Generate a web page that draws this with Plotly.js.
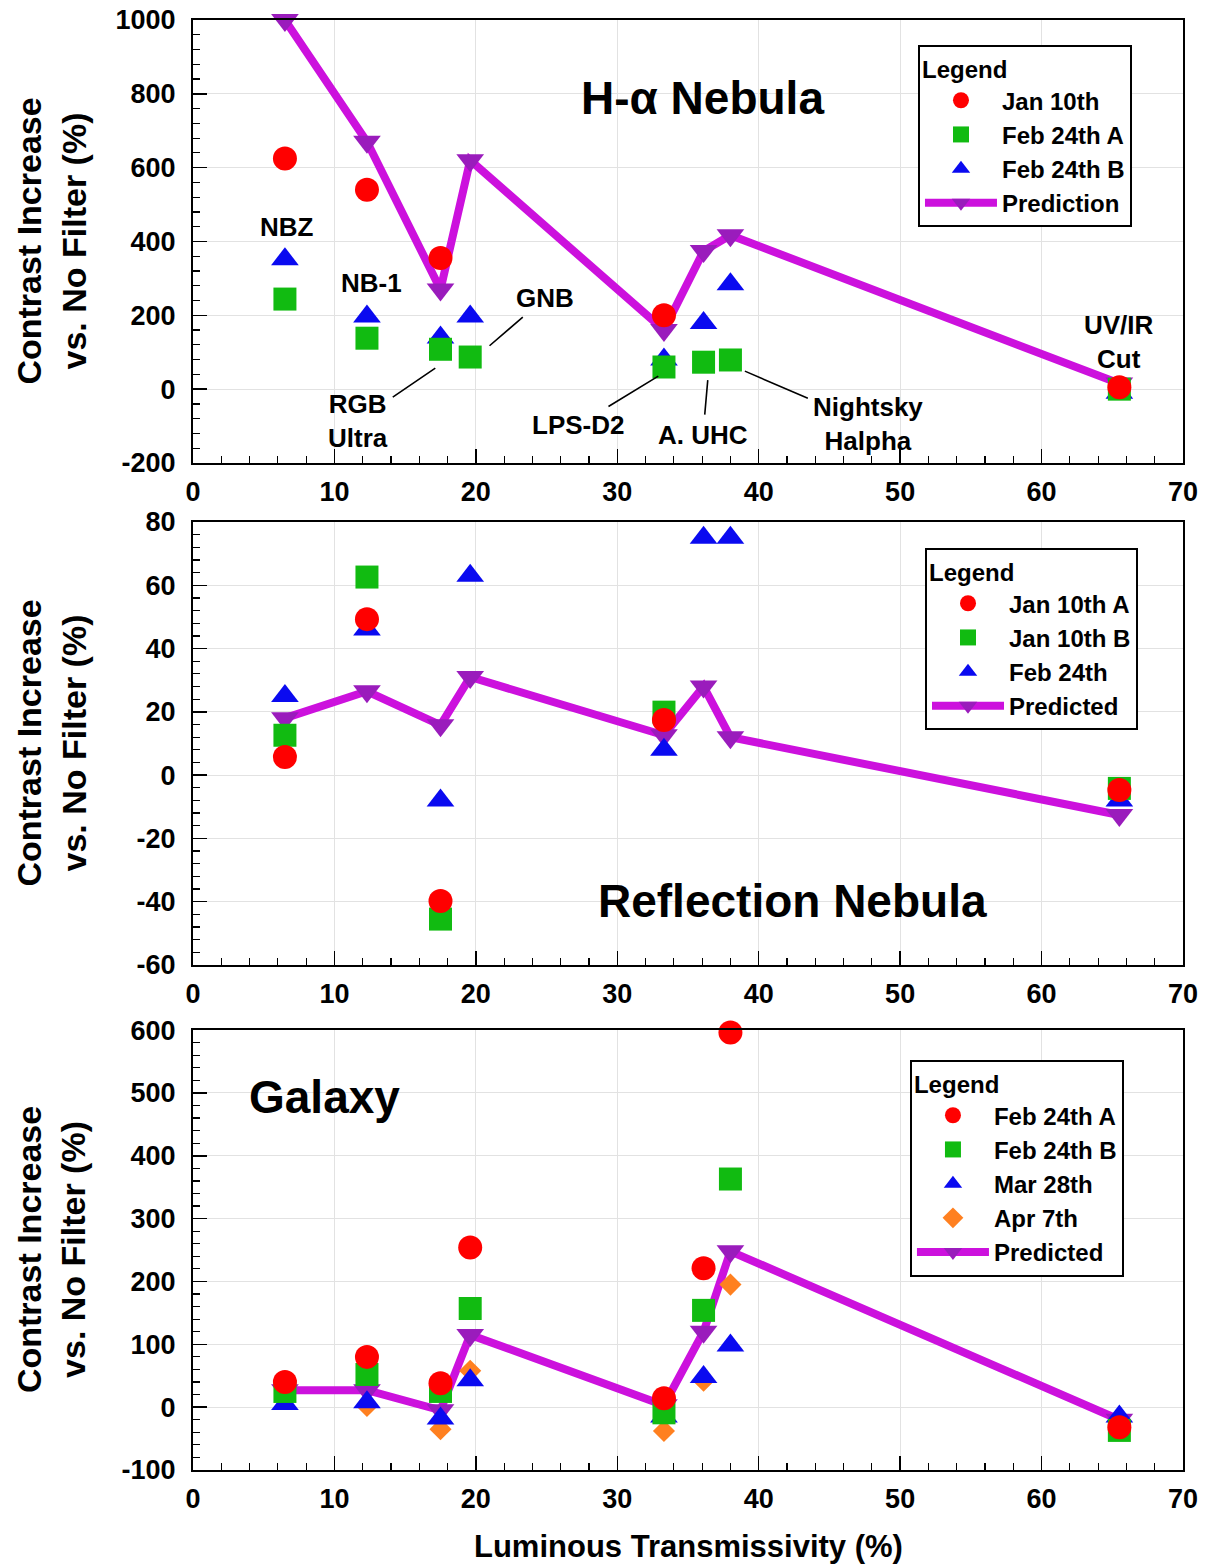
<!DOCTYPE html>
<html>
<head>
<meta charset="utf-8">
<script src="https://cdn.plot.ly/plotly-3.0.1.min.js"></script>
<style>
  html, body { margin: 0; padding: 0; background: #ffffff; }
  #chart { width: 1211px; height: 1568px; }
</style>
</head>
<body>
<div id="chart"></div>
<script>
// ---------- Data ----------
// Filter luminous transmissivity (%)
const transmissivity = [6.5, 12.3, 17.5, 19.6, 33.3, 36.1, 38.0, 65.5];

// H-alpha nebula
const haJan10      = [625, 540, 355, null, 200, null, null, 5];
const haFeb24A     = [244, 138, 108, 87, 60, 73, 79, 0];
const haFeb24B     = [352, 197, 140, 197, 80, 179, 284, -10];
const haPrediction = [1000, 670, 270, 620, 160, 374, 417, 15];

// Reflection nebula
const rnJan10A    = [5.7, 49.3, -39.8, null, 17.4, null, null, -4.7];
const rnJan10B    = [12.6, 62.6, -45.5, null, 19.9, null, null, -4.2];
const rnFeb24     = [25, 46, -8, 63, 8, 75, 75, -8];
const rnPredicted = [18, 26.5, 15.8, 31, 12.6, 28, 12, -12.6];

// Galaxy
const gxFeb24A    = [40, 80, 38, 254, 14, 221, 596, -32];
const gxFeb24B    = [25, 52, 25, 157, -9, 154, 363, -37];
const gxMar28     = [5, 8, -18, 43, -15, 48, 98, -15];
const gxApr7      = [15, 2, -35, 58, -38, 42, 195, -30];
const gxPredicted = [27, 27, -5, 115, 3, 120, 248, -20];

// Tick labels
const xTicks   = [0, 10, 20, 30, 40, 50, 60, 70];
const yTicksHa = [-200, 0, 200, 400, 600, 800, 1000];
const yTicksRn = [-60, -40, -20, 0, 20, 40, 60, 80];
const yTicksGx = [-100, 0, 100, 200, 300, 400, 500, 600];

// Text
const panelTitles = ['H-\u03b1 Nebula', 'Reflection Nebula', 'Galaxy'];
const yTitle = 'Contrast Increase<br>vs. No Filter (%)';
const xTitle = 'Luminous Transmissivity (%)';
const filterNames = ['NBZ', 'NB-1', 'GNB', 'RGB<br>Ultra', 'LPS-D2', 'A. UHC', 'Nightsky<br>Halpha', 'UV/IR<br>Cut'];

// ---------- Styling ----------
const FONT = 'Liberation Sans, Arial, Helvetica, sans-serif';
const RED = '#ff0000', GREEN = '#11bb11', BLUE = '#0a0af0', ORANGE = '#ff8020';
const MAG_LINE = '#cc11dd', MAG_MARK = '#9a1cbc';

function pts(name, y, color, symbol, size, xa, ya, leg, rank) {
  return {
    type: 'scatter', mode: 'markers', name: name,
    x: transmissivity, y: y, xaxis: xa, yaxis: ya, legend: leg, legendrank: rank,
    cliponaxis: false,
    marker: { color: color, symbol: symbol, size: size, line: { width: 0 } }
  };
}
function pred(name, y, xa, ya, leg, rank) {
  return {
    type: 'scatter', mode: 'lines+markers', name: name,
    x: transmissivity, y: y, xaxis: xa, yaxis: ya, legend: leg, legendrank: rank,
    cliponaxis: false,
    line: { color: MAG_LINE, width: 8 },
    marker: { color: MAG_MARK, symbol: 'triangle-down', size: 24, line: { width: 0 } }
  };
}

const traces = [
  // top panel (bottom layer first)
  pred('Prediction', haPrediction, 'x', 'y', 'legend', 4),
  pts('Feb 24th B', haFeb24B, BLUE, 'triangle-up', 24, 'x', 'y', 'legend', 3),
  pts('Feb 24th A', haFeb24A, GREEN, 'square', 23, 'x', 'y', 'legend', 2),
  pts('Jan 10th', haJan10, RED, 'circle', 24, 'x', 'y', 'legend', 1),
  // middle panel
  pred('Predicted', rnPredicted, 'x2', 'y2', 'legend2', 4),
  pts('Feb 24th', rnFeb24, BLUE, 'triangle-up', 24, 'x2', 'y2', 'legend2', 3),
  pts('Jan 10th B', rnJan10B, GREEN, 'square', 23, 'x2', 'y2', 'legend2', 2),
  pts('Jan 10th A', rnJan10A, RED, 'circle', 24, 'x2', 'y2', 'legend2', 1),
  // bottom panel
  pred('Predicted', gxPredicted, 'x3', 'y3', 'legend3', 5),
  pts('Apr 7th', gxApr7, ORANGE, 'diamond', 17, 'x3', 'y3', 'legend3', 4),
  pts('Mar 28th', gxMar28, BLUE, 'triangle-up', 24, 'x3', 'y3', 'legend3', 3),
  pts('Feb 24th B', gxFeb24B, GREEN, 'square', 23, 'x3', 'y3', 'legend3', 2),
  pts('Feb 24th A', gxFeb24A, RED, 'circle', 24, 'x3', 'y3', 'legend3', 1)
];

const tickFont = { family: FONT, size: 27, color: '#000', weight: 'bold' };
function xAx(anchor) {
  return {
    anchor: anchor, domain: [0, 1], range: [0, 70],
    tickmode: 'array', tickvals: xTicks, ticktext: xTicks.map(String),
    ticks: 'inside', ticklen: 14, tickwidth: 1.5, tickcolor: '#000',
    minor: { tickmode: 'linear', tick0: 0, dtick: 2, ticks: 'inside', ticklen: 7, tickwidth: 1.2, tickcolor: '#000', showgrid: false },
    showgrid: true, gridcolor: '#e2e2e2', gridwidth: 1,
    showline: true, linecolor: '#000', linewidth: 2, mirror: true,
    zeroline: false, tickfont: tickFont, ticklabelstandoff: 4
  };
}
function yAx(anchor, domain, range, vals, mdtick) {
  return {
    anchor: anchor, domain: domain, range: range,
    tickmode: 'array', tickvals: vals, ticktext: vals.map(String),
    ticks: 'inside', ticklen: 14, tickwidth: 1.5, tickcolor: '#000',
    minor: { tickmode: 'linear', tick0: 0, dtick: mdtick, ticks: 'inside', ticklen: 7, tickwidth: 1.2, tickcolor: '#000', showgrid: false },
    showgrid: true, gridcolor: '#e2e2e2', gridwidth: 1,
    showline: true, linecolor: '#000', linewidth: 2, mirror: true,
    zeroline: false, tickfont: tickFont, ticklabelstandoff: 10
  };
}
const legFont = { family: FONT, size: 24, color: '#000', weight: 'bold' };
function leg(x, y) {
  return {
    x: x, y: y, xanchor: 'left', yanchor: 'top', xref: 'paper', yref: 'paper',
    bgcolor: '#ffffff', bordercolor: '#000', borderwidth: 2,
    font: legFont, title: { text: 'Legend', font: legFont },
    itemwidth: 72, traceorder: 'normal', tracegroupgap: 0
  };
}

const bigFont = { family: FONT, size: 46, color: '#000', weight: 'bold' };
const lblFont = { family: FONT, size: 26, color: '#000', weight: 'bold' };
const titleFont = { family: FONT, size: 34, color: '#000', weight: 'bold' };

function txt(text, xref, yref, x, y, font) {
  return { text: text, xref: xref, yref: yref, x: x, y: y, showarrow: false, font: font,
           align: 'center', xanchor: 'center', yanchor: 'middle' };
}
function arr(text, x, y, ax, ay) {
  return { text: text, xref: 'x', yref: 'y', x: x, y: y, ax: ax, ay: ay, showarrow: true,
           arrowhead: 0, arrowwidth: 1.6, arrowcolor: '#000', standoff: 2, startstandoff: 4,
           font: lblFont, align: 'center' };
}

const annotations = [
  txt(panelTitles[0], 'x', 'y', 36.0, 789, bigFont),
  txt(panelTitles[1], 'x2', 'y2', 42.4, -39.8, bigFont),
  txt(panelTitles[2], 'x3', 'y3', 9.33, 493, bigFont),
  txt(filterNames[0], 'x', 'y', 6.65, 439, lblFont),
  txt(filterNames[1], 'x', 'y', 12.6, 287, lblFont),
  arr(filterNames[2], 20.86, 114, 57, -49),
  arr(filterNames[3], 17.25, 60, -79, 54),
  arr(filterNames[4], 33.02, 38, -82, 50),
  arr(filterNames[5], 36.41, 30, -5, 57),
  arr(filterNames[6], 38.89, 51, 125, 54),
  txt(filterNames[7], 'x', 'y', 65.47, 127, lblFont),
  Object.assign(txt(yTitle, 'paper', 'paper', -0.1434, 0.8472, titleFont), { textangle: -90 }),
  Object.assign(txt(yTitle, 'paper', 'paper', -0.1434, 0.501, titleFont), { textangle: -90 }),
  Object.assign(txt(yTitle, 'paper', 'paper', -0.1434, 0.1517, titleFont), { textangle: -90 }),
  txt(xTitle, 'paper', 'paper', 0.5, -0.0531, { family: FONT, size: 31, color: '#000', weight: 'bold' })
];

const layout = {
  width: 1211, height: 1568,
  margin: { l: 193, r: 28, t: 20, b: 98 },
  paper_bgcolor: '#ffffff', plot_bgcolor: '#ffffff',
  font: { family: FONT, color: '#000' },
  showlegend: true,
  xaxis: xAx('y'), xaxis2: xAx('y2'), xaxis3: xAx('y3'),
  yaxis: yAx('x', [0.6945, 1], [-200, 1000], yTicksHa, 40),
  yaxis2: yAx('x2', [0.3483, 0.6538], [-60, 80], yTicksRn, 4),
  yaxis3: yAx('x3', [0, 0.3034], [-100, 600], yTicksGx, 20),
  legend: leg(0.7323, 0.9828),
  legend2: leg(0.7394, 0.6359),
  legend3: leg(0.7242, 0.2828),
  annotations: annotations
};

Plotly.newPlot('chart', traces, layout, { staticPlot: true, displayModeBar: false });
</script>
</body>
</html>
